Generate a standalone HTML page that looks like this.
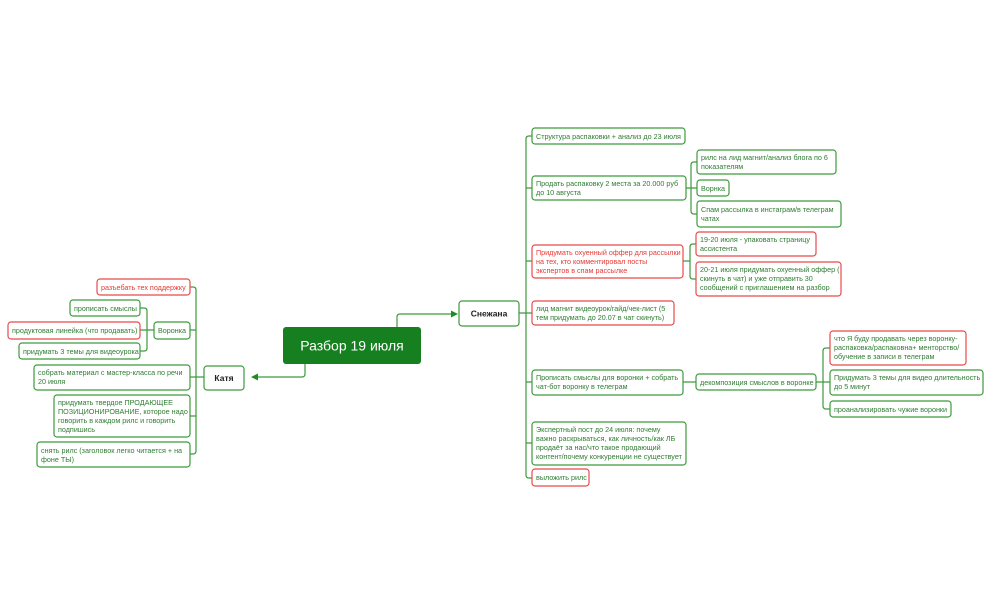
<!DOCTYPE html>
<html><head><meta charset="utf-8"><style>
html,body{margin:0;padding:0;background:#fff;width:992px;height:614px;overflow:hidden}
svg{display:block}
text{font-family:"Liberation Sans","DejaVu Sans",sans-serif;font-size:7.2px;fill:#2e7d32}
.r{fill:#e53935}
.g{fill:#fff;stroke:#3c9a3c;stroke-width:1.2}
.rb{fill:#fff;stroke:#e84a4a;stroke-width:1.2}
.l{fill:none;stroke:#3c9a3c;stroke-width:1.2}
</style></head><body>
<svg width="992" height="614" viewBox="0 0 992 614">
<!-- main connectors -->
<path class="l" d="M305 364 V374 q0 3 -3 3 H256" stroke="#1f8a2a"/>
<polygon points="251,377 258,373.5 258,380.5" fill="#1f8a2a"/>
<path class="l" d="M397 327 V317 q0 -3 3 -3 H452" stroke="#1f8a2a"/>
<polygon points="458,314 451,310.5 451,317.5" fill="#1f8a2a"/>

<!-- Katya bus -->
<path class="l" d="M190 287 h3 q3 0 3 3 V451 q0 3 -3 3 h-3 M196 377 h8 M190 330 h6 M190 377 h6 M190 416 h6"/>
<path class="l" d="M140 308 h4 q3 0 3 3 V348 q0 3 -3 3 h-4 M140 330 h14"/>

<!-- Snezhana bus -->
<path class="l" d="M519 313 h7 M532 136 h-3 q-3 0 -3 3 V475 q0 3 3 3 h3 M526 188 h6 M526 261 h6 M526 313 h6 M526 382 h6 M526 443 h6"/>
<path class="l" d="M686 188 h11 M697 162 h-3 q-3 0 -3 3 V211 q0 3 3 3 h3"/>
<path class="l" d="M683 261 h7 M696 244 h-3 q-3 0 -3 3 V276 q0 3 3 3 h3"/>
<path class="l" d="M683 382 h13 M816 382 h14 M830 348 h-4 q-3 0 -3 3 V406 q0 3 3 3 h4"/>

<!-- central -->
<rect x="283" y="327" width="138" height="37" rx="3" fill="#168020"/>
<text x="352" y="350.5" text-anchor="middle" style="font-size:14px;fill:#fff">Разбор 19 июля</text>
<rect x="204" y="366" width="40" height="24" rx="3" class="g" stroke="#2a8a2a" stroke-width="1.5"/>
<text x="224" y="381" text-anchor="middle" style="font-size:8.5px;fill:#222;font-weight:bold">Катя</text>
<rect x="459" y="301" width="60" height="25" rx="3" class="g" stroke="#2a8a2a" stroke-width="1.5"/>
<text x="489" y="316.5" text-anchor="middle" style="font-size:8.5px;fill:#222;font-weight:bold">Снежана</text>

<!-- Katya children -->
<rect x="97" y="279" width="93" height="16" rx="3" class="rb"/><text x="101" y="290" class="r">разъебать тех поддержку</text>
<rect x="154" y="322" width="36" height="17" rx="3" class="g"/><text x="158" y="333">Воронка</text>
<rect x="70" y="300" width="70" height="16" rx="3" class="g"/><text x="74" y="311">прописать смыслы</text>
<rect x="8" y="322" width="132" height="17" rx="3" class="rb"/><text x="12" y="333">продуктовая линейка (что продавать)</text>
<rect x="19" y="343" width="121" height="16" rx="3" class="g"/><text x="23" y="354">придумать 3 темы для видеоурока</text>
<rect x="34" y="365" width="156" height="25" rx="3" class="g"/><text x="38" y="375">собрать материал с мастер-класса по речи</text><text x="38" y="384">20 июля</text>
<rect x="54" y="395" width="136" height="42" rx="3" class="g"/><text x="58" y="405">придумать твердое ПРОДАЮЩЕЕ</text><text x="58" y="414">ПОЗИЦИОНИРОВАНИЕ, которое надо</text><text x="58" y="423">говорить в каждом рилс и говорить</text><text x="58" y="432">подпишись</text>
<rect x="37" y="442" width="153" height="25" rx="3" class="g"/><text x="41" y="453">снять рилс (заголовок легко читается + на</text><text x="41" y="462">фоне ТЫ)</text>

<!-- Snezhana children -->
<rect x="532" y="128" width="153" height="16" rx="3" class="g"/><text x="536" y="139">Структура распаковки + анализ до 23 июля</text>
<rect x="532" y="176" width="154" height="24" rx="3" class="g"/><text x="536" y="186">Продать распаковку 2 места за 20.000 руб</text><text x="536" y="195">до 10 августа</text>
<rect x="697" y="150" width="139" height="24" rx="3" class="g"/><text x="701" y="160">рилс на лид магнит/анализ блога по 6</text><text x="701" y="169">показателям</text>
<rect x="697" y="180" width="32" height="16" rx="3" class="g"/><text x="701" y="191">Ворнка</text>
<rect x="697" y="201" width="144" height="26" rx="3" class="g"/><text x="701" y="212">Спам рассылка в инстаграм/в телеграм</text><text x="701" y="221">чатах</text>
<rect x="532" y="245" width="151" height="33" rx="3" class="rb"/><text x="536" y="255" class="r">Придумать охуенный оффер для рассылки</text><text x="536" y="264" class="r">на тех, кто комментировал посты</text><text x="536" y="273" class="r">экспертов в спам рассылке</text>
<rect x="696" y="232" width="120" height="24" rx="3" class="rb"/><text x="700" y="242">19-20 июля - упаковать страницу</text><text x="700" y="251">ассистента</text>
<rect x="696" y="262" width="145" height="34" rx="3" class="rb"/><text x="700" y="272">20-21 июля придумать охуенный оффер (</text><text x="700" y="281">скинуть в чат) и уже отправить 30</text><text x="700" y="290">сообщений с приглашением на разбор</text>
<rect x="532" y="301" width="142" height="24" rx="3" class="rb"/><text x="536" y="311">лид магнит видеоурок/гайд/чек-лист (5</text><text x="536" y="320">тем придумать до 20.07 в чат скинуть)</text>
<rect x="532" y="370" width="151" height="25" rx="3" class="g"/><text x="536" y="380">Прописать смыслы для воронки + собрать</text><text x="536" y="389">чат-бот воронку в телеграм</text>
<rect x="696" y="374" width="120" height="16" rx="3" class="g"/><text x="700" y="385">декомпозиция смыслов в воронке</text>
<rect x="830" y="331" width="136" height="34" rx="3" class="rb"/><text x="834" y="341">что Я буду продавать через воронку-</text><text x="834" y="350">распаковка/распаковна+ менторство/</text><text x="834" y="359">обучение в  записи в телеграм</text>
<rect x="830" y="370" width="153" height="25" rx="3" class="g"/><text x="834" y="380">Придумать 3 темы для видео длительность</text><text x="834" y="389">до 5 минут</text>
<rect x="830" y="401" width="121" height="16" rx="3" class="g"/><text x="834" y="412">проанализировать чужие воронки</text>
<rect x="532" y="422" width="154" height="43" rx="3" class="g"/><text x="536" y="432">Экспертный пост до 24 июля: почему</text><text x="536" y="441">важно раскрываться, как личность/как ЛБ</text><text x="536" y="450">продаёт за нас/что такое продающий</text><text x="536" y="459">контент/почему конкуренции не существует</text>
<rect x="532" y="469" width="57" height="17" rx="3" class="rb"/><text x="536" y="480">выложить рилс</text>
</svg>
</body></html>
